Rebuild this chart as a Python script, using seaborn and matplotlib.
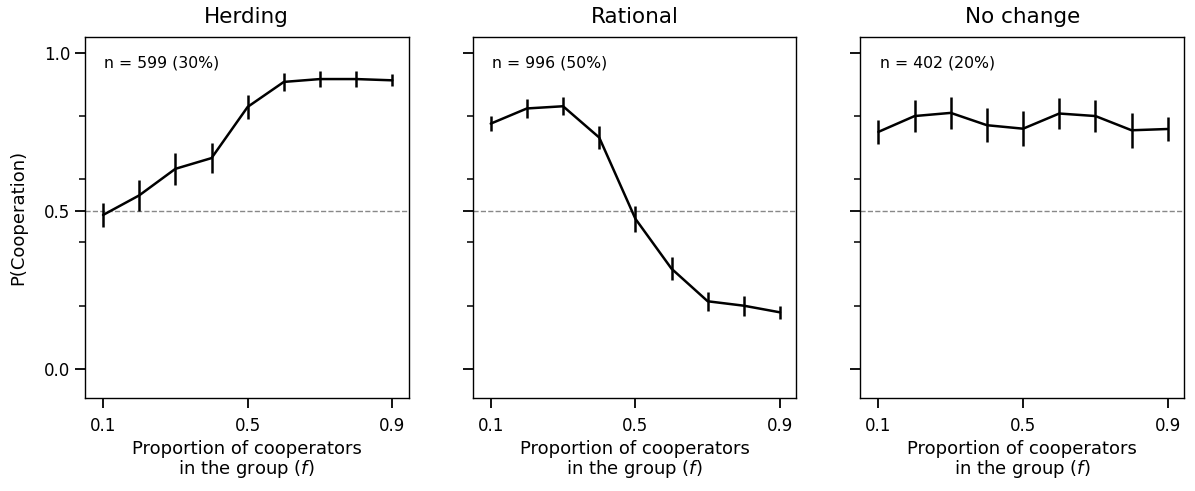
import numpy as np
import pandas as pd
import matplotlib
matplotlib.use("Agg")
import matplotlib.pyplot as plt
import seaborn as sns

f_values = [0.1, 0.2, 0.3, 0.4, 0.5, 0.6, 0.7, 0.8, 0.9]

titles = ["Herding", "Rational", "No change"]
annotations = ["n = 599 (30%)", "n = 996 (50%)", "n = 402 (20%)"]

herding_mean = [0.487, 0.549, 0.633, 0.667, 0.829, 0.908, 0.917, 0.917, 0.913]
herding_err = [0.037, 0.050, 0.050, 0.048, 0.039, 0.029, 0.026, 0.024, 0.019]

rational_mean = [0.776, 0.824, 0.831, 0.732, 0.475, 0.317, 0.214, 0.200, 0.179]
rational_err = [0.023, 0.030, 0.029, 0.035, 0.041, 0.036, 0.030, 0.032, 0.021]

nochange_mean = [0.750, 0.800, 0.810, 0.771, 0.760, 0.808, 0.800, 0.755, 0.759]
nochange_err = [0.039, 0.051, 0.050, 0.054, 0.055, 0.050, 0.051, 0.055, 0.038]

means = [herding_mean, rational_mean, nochange_mean]
errs = [herding_err, rational_err, nochange_err]

x_ticks = [0.1, 0.5, 0.9]
y_major = [0.0, 0.5, 1.0]
y_minor = [0.2, 0.4, 0.6, 0.8]

sns.set_style("ticks")
plt.rcParams["font.family"] = ["DejaVu Sans"]
plt.rcParams["text.color"] = "black"
plt.rcParams["axes.labelcolor"] = "black"
plt.rcParams["xtick.color"] = "black"
plt.rcParams["ytick.color"] = "black"

fig, axes = plt.subplots(1, 3, figsize=(11.95, 4.91), dpi=100, sharey=True)
fig.subplots_adjust(left=0.0711, right=0.9908, top=0.9246, bottom=0.1894, wspace=0.198)

for i, ax in enumerate(axes):
    df = pd.DataFrame({"f": f_values, "p": means[i], "err": errs[i]})
    ax.axhline(0.5, color="#888888", linestyle="--", linewidth=1.0, zorder=1)
    sns.lineplot(data=df, x="f", y="p", ax=ax, color="black", linewidth=1.8, zorder=3)
    ax.errorbar(df["f"], df["p"], yerr=df["err"], fmt="none", ecolor="black",
                elinewidth=1.8, capsize=0, zorder=3)
    ax.set_xlim(0.05, 0.945)
    ax.set_ylim(-0.092, 1.05)
    ax.set_xticks(x_ticks)
    ax.set_xticklabels([f"{v:.1f}" for v in x_ticks])
    ax.set_yticks(y_major)
    ax.set_yticks(y_minor, minor=True)
    ax.set_yticklabels([f"{v:.1f}" for v in y_major])
    ax.tick_params(axis="both", which="major", length=7, width=1.3, labelsize=12,
                   direction="out", color="black", labelcolor="black")
    ax.tick_params(axis="x", which="major", pad=7)
    ax.tick_params(axis="y", which="minor", length=4.5, width=1.1, direction="out", color="black")
    for sp in ax.spines.values():
        sp.set_visible(True)
        sp.set_linewidth(1.0)
        sp.set_color("black")
    ax.set_title(titles[i], fontsize=15.5, pad=10, color="black")
    ax.set_xlabel("Proportion of cooperators\nin the group ($f$)", fontsize=13,
                  labelpad=3, linespacing=1.0)
    ax.text(0.06, 0.95, annotations[i], transform=ax.transAxes, fontsize=11.3,
            ha="left", va="top", color="black")
    if i == 0:
        ax.set_ylabel("P(Cooperation)", fontsize=13, labelpad=12)
    else:
        ax.set_ylabel("")

fig.savefig("out.png", dpi=100)
